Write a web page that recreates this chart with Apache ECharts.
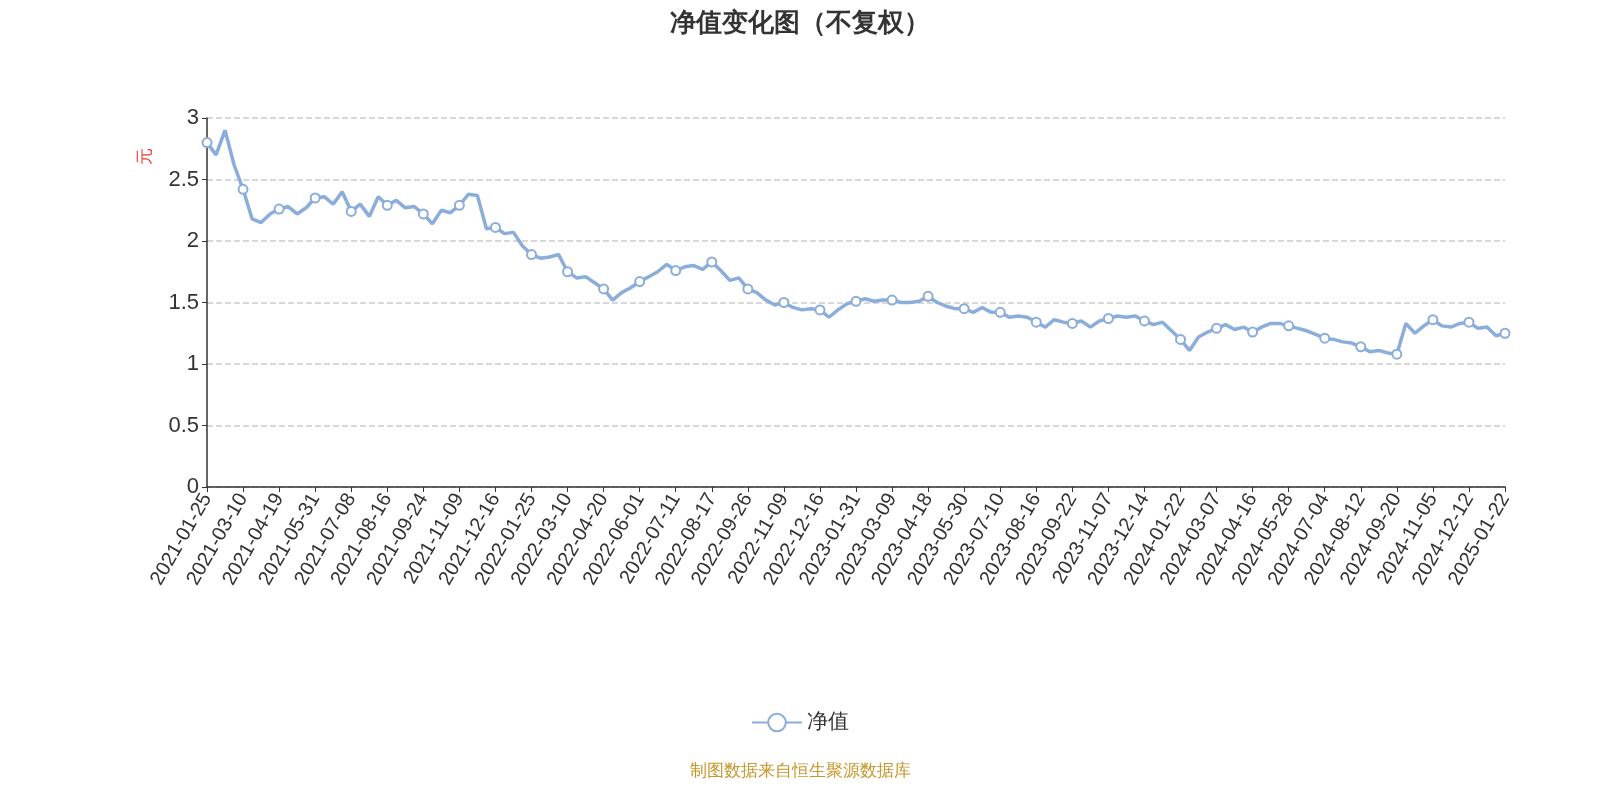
<!DOCTYPE html>
<html><head><meta charset="utf-8">
<script src="https://cdn.jsdelivr.net/npm/echarts@6/dist/echarts.min.js"></script>
<style>html,body{margin:0;padding:0;background:#fff}#c{width:1600px;height:800px}</style>
</head><body><div id="c"></div>
<script>
const labelDates = ["2021-01-25","2021-03-10","2021-04-19","2021-05-31","2021-07-08","2021-08-16","2021-09-24","2021-11-09","2021-12-16","2022-01-25","2022-03-10","2022-04-20","2022-06-01","2022-07-11","2022-08-17","2022-09-26","2022-11-09","2022-12-16","2023-01-31","2023-03-09","2023-04-18","2023-05-30","2023-07-10","2023-08-16","2023-09-22","2023-11-07","2023-12-14","2024-01-22","2024-03-07","2024-04-16","2024-05-28","2024-07-04","2024-08-12","2024-09-20","2024-11-05","2024-12-12","2025-01-22"];
const navValues = [
2.80,2.70,2.90,2.62, 2.42,2.18,2.15,2.22, 2.26,2.28,2.22,2.27, 2.35,2.36,2.30,2.40,
2.24,2.30,2.20,2.36, 2.29,2.33,2.27,2.28, 2.22,2.14,2.25,2.23, 2.29,2.38,2.37,2.10,
2.11,2.06,2.07,1.96, 1.89,1.86,1.87,1.89, 1.75,1.70,1.71,1.66, 1.61,1.52,1.58,1.62,
1.67,1.71,1.75,1.81, 1.76,1.79,1.80,1.77, 1.83,1.76,1.68,1.70, 1.61,1.58,1.52,1.48,
1.50,1.46,1.44,1.45, 1.44,1.38,1.44,1.49, 1.51,1.53,1.51,1.52, 1.52,1.50,1.50,1.51,
1.55,1.50,1.47,1.45, 1.45,1.42,1.46,1.42, 1.42,1.38,1.39,1.38, 1.34,1.30,1.36,1.34,
1.33,1.35,1.30,1.35, 1.37,1.39,1.38,1.39, 1.35,1.32,1.34,1.27, 1.20,1.11,1.22,1.26,
1.29,1.32,1.28,1.30, 1.26,1.30,1.33,1.33, 1.31,1.29,1.27,1.24, 1.21,1.20,1.18,1.17,
1.14,1.10,1.11,1.09, 1.08,1.33,1.25,1.31, 1.36,1.31,1.30,1.33, 1.34,1.29,1.30,1.23,
1.25];
const dates = [];
for (let i = 0; i < labelDates.length - 1; i++) {
  const a = new Date(labelDates[i] + "T00:00:00Z").getTime();
  const b = new Date(labelDates[i+1] + "T00:00:00Z").getTime();
  for (let k = 0; k < 4; k++) {
    const d = new Date(a + Math.round((b - a) * k / 4 / 86400000) * 86400000);
    dates.push(k === 0 ? labelDates[i] : d.toISOString().slice(0,10));
  }
}
dates.push(labelDates[labelDates.length-1]);
const chart = echarts.init(document.getElementById('c'));
chart.setOption({
  animation:false,
  title:{text:'净值变化图（不复权）',left:'center',top:6,textStyle:{fontSize:26,fontWeight:'bold',color:'#333'}},
  grid:{left:207,right:95,top:118,bottom:313},
  xAxis:{type:'category',data:dates,boundaryGap:false,
    axisLine:{lineStyle:{color:'#333',width:1.5}},
    axisTick:{interval:3,lineStyle:{color:'#333'}},
    axisLabel:{interval:3,rotate:60,fontSize:20,color:'#333',margin:8}},
  yAxis:{type:'value',min:0,max:3,interval:0.5,
    axisLine:{show:true,lineStyle:{color:'#333',width:1.5}},axisTick:{show:true},
    axisLabel:{fontSize:22,color:'#333'},
    splitLine:{lineStyle:{type:'dashed',color:'#ccc',width:1.5}}},
  legend:{bottom:62,left:'center',itemWidth:50,itemHeight:22,textStyle:{fontSize:21,color:'#333'},data:['净值']},
  graphic:[
    {type:'text',left:137,top:148,rotation:Math.PI/2,style:{text:'元',fill:'#e33',fontSize:17}},
    {type:'text',left:'center',top:763,style:{text:'制图数据来自恒生聚源数据库',fill:'#c8962a',fontSize:17}}
  ],
  series:[{name:'净值',type:'line',data:navValues,symbol:'emptyCircle',symbolSize:9,
    showSymbol:true,
    lineStyle:{color:'#8aaddc',width:3.5},itemStyle:{color:'#8aaddc'}}]
});
</script></body></html>
